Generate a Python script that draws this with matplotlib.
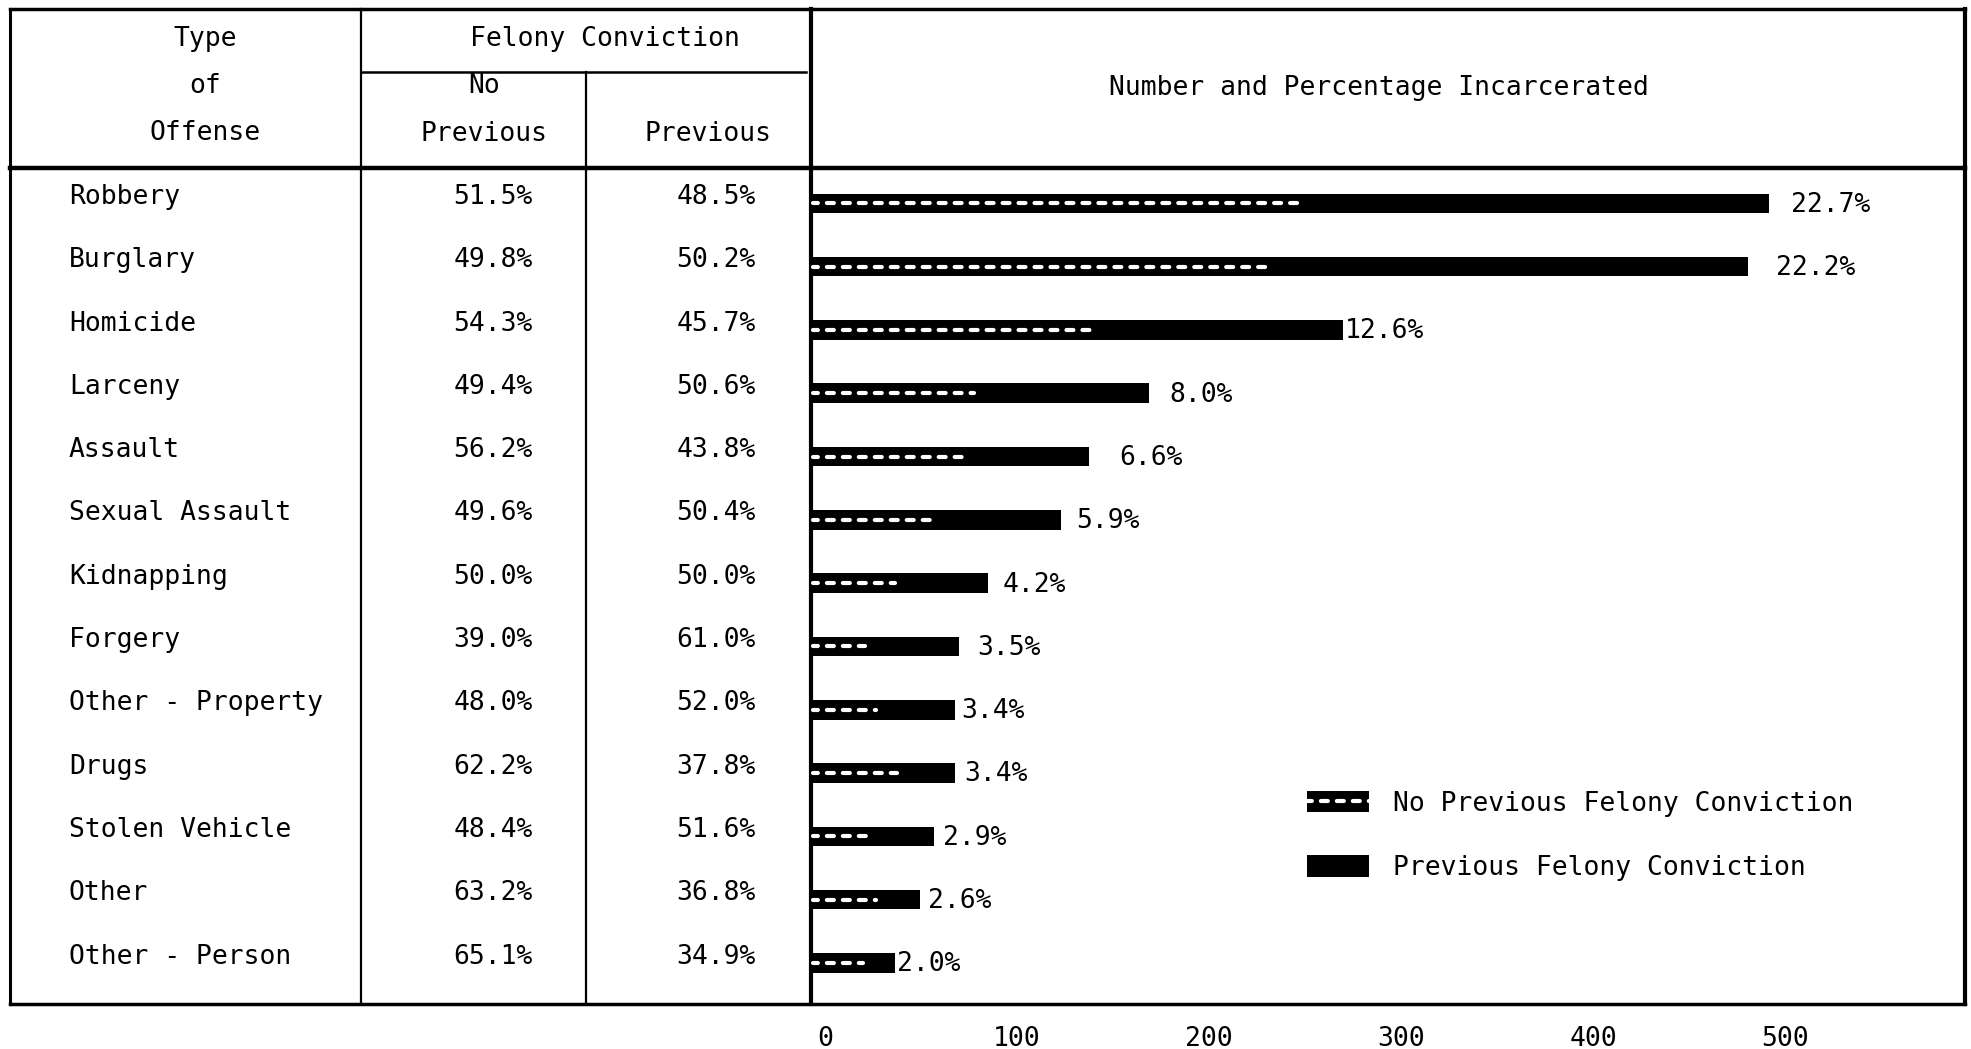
import numpy as np
import matplotlib
matplotlib.use("Agg")
import matplotlib.pyplot as plt
from matplotlib.transforms import ScaledTranslation
from matplotlib.lines import Line2D
from matplotlib.patches import Patch
from matplotlib.legend_handler import HandlerTuple

# Table / chart data
offenses = ["Robbery", "Burglary", "Homicide", "Larceny", "Assault",
            "Sexual Assault", "Kidnapping", "Forgery", "Other - Property",
            "Drugs", "Stolen Vehicle", "Other", "Other - Person"]
pct_no_previous = [51.5, 49.8, 54.3, 49.4, 56.2, 49.6, 50.0, 39.0, 48.0, 62.2, 48.4, 63.2, 65.1]
pct_previous = [48.5, 50.2, 45.7, 50.6, 43.8, 50.4, 50.0, 61.0, 52.0, 37.8, 51.6, 36.8, 34.9]
# incarcerated counts
count_no_previous = [257, 243, 150, 87, 81, 64, 46, 30, 36, 47, 31, 36, 29]
count_previous = [242, 245, 127, 89, 64, 66, 46, 47, 39, 28, 33, 21, 15]
pct_incarcerated = [22.7, 22.2, 12.6, 8.0, 6.6, 5.9, 4.2, 3.5, 3.4, 3.4, 2.9, 2.6, 2.0]
x_ticks = [0, 100, 200, 300, 400, 500]

plt.rcParams['font.family'] = ['DejaVu Sans Mono', 'DejaVu Sans']
plt.rcParams['lines.scale_dashes'] = False
FS = 19

W, H = 1971, 1049
fig = plt.figure(figsize=(W / 100, H / 100), dpi=100)
fig.patch.set_facecolor('white')

# overlay axes in pixel coords for the table grid and text
ov = fig.add_axes([0, 0, 1, 1])
ov.set_xlim(0, W)
ov.set_ylim(H, 0)
ov.axis('off')

left, c1, c2, c3, right = 10, 361, 586, 811, 1965
top, sub, head, bottom = 9, 72, 168, 1004

def line(x0, y0, x1, y1, lw=1.5):
    ov.plot([x0, x1], [y0, y1], color='black', lw=lw, solid_capstyle='projecting')

line(left, top, right, top, 2.5)
line(left, bottom, right, bottom, 2.5)
line(left, top, left, bottom, 2.2)
line(right, top, right, bottom, 3.0)
line(left, head, right, head, 3.2)
line(c1, top, c1, bottom, 1.6)
line(c2, sub, c2, bottom, 1.6)
line(c3, top, c3, bottom, 3.0)
line(c1, sub, c3 - 5, sub, 1.8)

# headers
ov.text(205, 39, "Type", ha='center', va='center', fontsize=FS)
ov.text(205, 86, "of", ha='center', va='center', fontsize=FS)
ov.text(205, 133, "Offense", ha='center', va='center', fontsize=FS)
ov.text(605, 39, "Felony Conviction", ha='center', va='center', fontsize=FS)
ov.text(484, 86, "No", ha='center', va='center', fontsize=FS)
ov.text(484, 134, "Previous", ha='center', va='center', fontsize=FS)
ov.text(708, 134, "Previous", ha='center', va='center', fontsize=FS)
ov.text(1379, 88, "Number and Percentage Incarcerated", ha='center', va='center', fontsize=FS)

# table rows
row0, row_step = 197, 63.3
for i, name in enumerate(offenses):
    yy = row0 + i * row_step
    ov.text(69, yy, name, ha='left', va='center', fontsize=FS)
    ov.text(493, yy, f"{pct_no_previous[i]:.1f}%", ha='center', va='center', fontsize=FS)
    ov.text(716, yy, f"{pct_previous[i]:.1f}%", ha='center', va='center', fontsize=FS)

# bar chart panel
px_per_unit = 1.92
ax = fig.add_axes([c3 / W, 1 - bottom / H, (right - c3) / W, (bottom - head) / H])
ax.set_facecolor('none')
ax.set_xlim(0, (right - c3) / px_per_unit)
ax.set_ylim((bottom - row0) / row_step, (head - row0) / row_step)

y = np.arange(len(offenses)) + 0.1
no_prev = np.array(count_no_previous)
prev = np.array(count_previous)
bh = 0.31
ax.barh(y, no_prev, height=bh, color='black', lw=0)
ax.barh(y, prev, left=no_prev, height=bh, color='black', lw=0)
dash = (1.5, (5.0, 6.5))
for yi, xe in zip(y, no_prev):
    ax.plot([1, xe - 2], [yi, yi], color='white', lw=3.0, linestyle=dash,
            dash_capstyle='round')

# label gaps vary in the hand-made original (pixels)
label_gap = [22, 28, 2, 20, 30, 16, 15, 18, 6, 9, 9, 8, 2]
for i in range(len(offenses)):
    ax.annotate(f"{pct_incarcerated[i]:.1f}%", (no_prev[i] + prev[i], y[i]),
                xytext=(label_gap[i] * 0.72, -1), textcoords='offset points',
                ha='left', va='center', fontsize=FS)

ax.set_xticks(x_ticks)
ax.set_xticklabels([str(t) for t in x_ticks], fontsize=FS)
ax.set_yticks([])
ax.tick_params(axis='x', length=0, pad=16)
shift = ScaledTranslation(14 / 100, 0, fig.dpi_scale_trans)
for lab in ax.get_xticklabels():
    lab.set_transform(lab.get_transform() + shift)
for s in ax.spines.values():
    s.set_visible(False)

# legend
h_hatch = (Patch(facecolor='black', lw=0),
           Line2D([], [], color='white', lw=3.0, linestyle=dash, dash_capstyle='round'))
h_solid = Patch(facecolor='black', lw=0)
ov.legend([h_hatch, h_solid],
          ["No Previous Felony Conviction", "Previous Felony Conviction"],
          handler_map={tuple: HandlerTuple(ndivide=1, pad=0)},
          loc='center left', bbox_to_anchor=(1307, 836),
          bbox_transform=ov.transData, frameon=False, fontsize=FS,
          borderpad=0, borderaxespad=0, handlelength=2.35, handleheight=0.85,
          handletextpad=0.9, labelspacing=1.45)

fig.savefig("out.png", dpi=100, facecolor='white')
